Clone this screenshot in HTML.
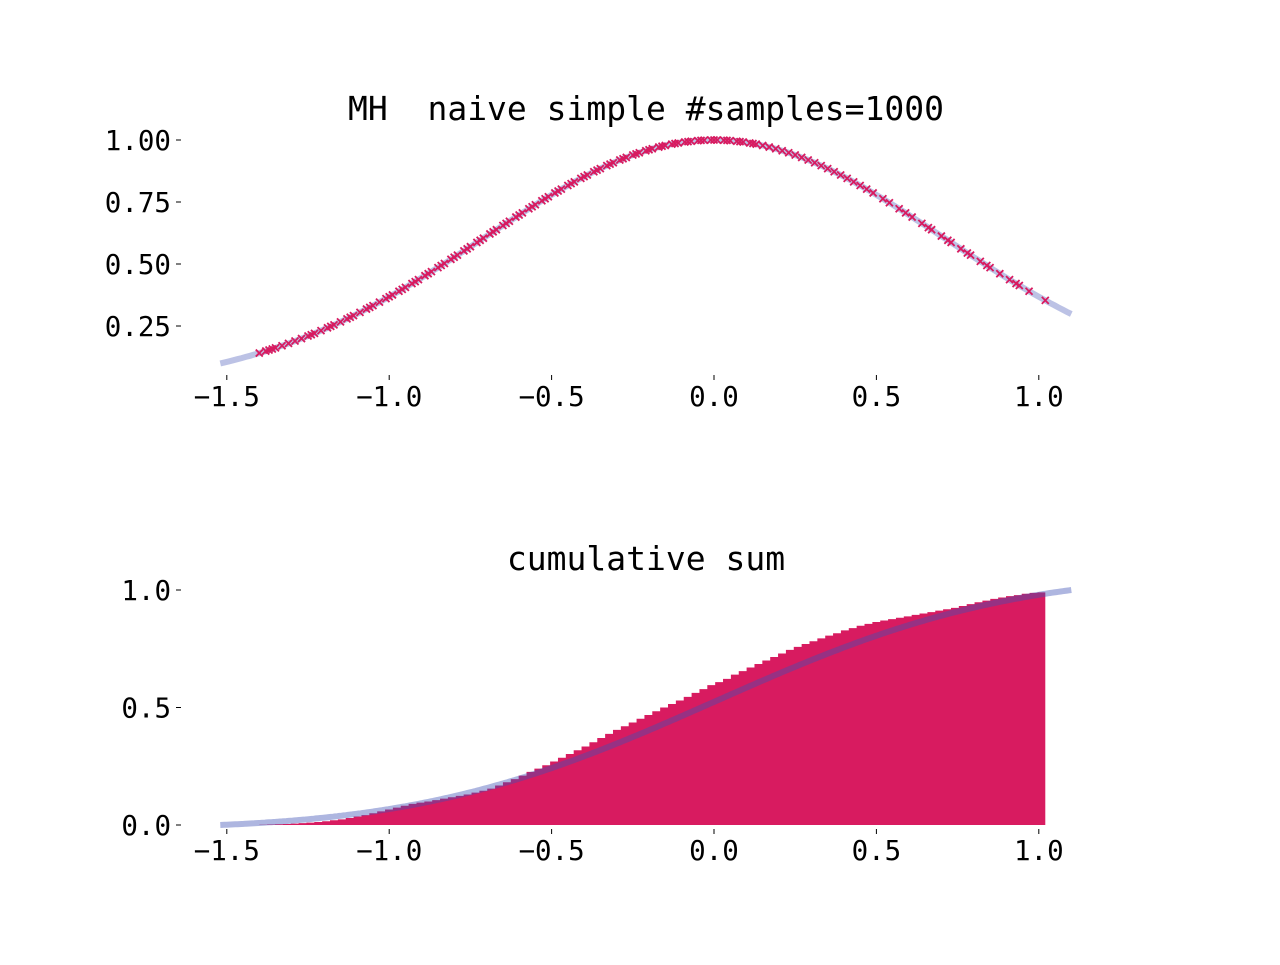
<!DOCTYPE html>
<html><head><meta charset="utf-8"><style>
html,body{margin:0;padding:0;background:#fff;}
svg text{font-family:"DejaVu Sans Mono","Liberation Mono",monospace;fill:#000;white-space:pre;}
</style></head><body>
<svg id="chart" width="1280" height="960" xmlns="http://www.w3.org/2000/svg"></svg>
<script>
const xTicks = [-1.5, -1.0, -0.5, 0.0, 0.5, 1.0];
const xTickLabels = ["\u22121.5", "\u22121.0", "\u22120.5", "0.0", "0.5", "1.0"];
const topYTicks = [0.25, 0.5, 0.75, 1.0];
const topYTickLabels = ["0.25", "0.50", "0.75", "1.00"];
const botYTicks = [0.0, 0.5, 1.0];
const botYTickLabels = ["0.0", "0.5", "1.0"];
const lineRange = [-1.52, 1.1];
const binStart = -1.40;
const binEnd = 1.02;
const cumValues = [
0.001,0.002,0.003,0.004,0.006,0.008,0.010,0.013,0.016,0.020,
0.024,0.030,0.036,0.042,0.050,0.058,0.066,0.074,0.082,0.090,
0.095,0.100,0.106,0.112,0.118,0.124,0.130,0.138,0.146,0.155,
0.168,0.182,0.195,0.210,0.226,0.240,0.254,0.270,0.286,0.302,
0.318,0.334,0.352,0.370,0.388,0.405,0.420,0.436,0.452,0.468,
0.484,0.500,0.515,0.530,0.545,0.562,0.578,0.595,0.608,0.622,
0.640,0.655,0.670,0.685,0.700,0.715,0.730,0.745,0.758,0.770,
0.782,0.794,0.806,0.816,0.828,0.838,0.848,0.856,0.864,0.870,
0.876,0.882,0.888,0.894,0.900,0.906,0.912,0.918,0.924,0.932,
0.940,0.948,0.955,0.962,0.968,0.974,0.978,0.984,0.988,0.990];
const samples = [
-1.40,-1.38,-1.37,-1.36,-1.35,-1.33,-1.31,-1.29,-1.27,-1.25,-1.24,-1.23,-1.21,-1.19,-1.18,-1.17,-1.15,-1.13,-1.12,-1.11,-1.09,-1.07,-1.06,-1.05,-1.03,
-1.01,-1.00,-0.99,-0.97,-0.96,-0.95,-0.93,-0.92,-0.91,-0.89,-0.88,-0.87,-0.85,-0.84,-0.83,-0.81,-0.80,-0.79,-0.77,-0.76,-0.75,-0.73,-0.72,-0.71,-0.69,-0.68,-0.67,-0.65,-0.64,-0.63,
-0.61,-0.60,-0.59,-0.57,-0.56,-0.55,-0.53,-0.52,-0.51,-0.49,-0.48,-0.47,-0.45,-0.44,-0.43,-0.41,-0.40,-0.39,-0.37,-0.36,-0.35,-0.33,-0.32,-0.31,-0.29,-0.28,-0.27,-0.25,-0.24,-0.23,
-0.21,-0.20,-0.19,-0.17,-0.16,-0.15,-0.13,-0.12,-0.11,-0.09,-0.08,-0.07,-0.05,-0.04,-0.03,-0.01,0.00,0.01,0.03,0.04,0.05,0.07,0.08,0.09,0.11,0.12,0.13,0.15,0.17,
0.19,0.21,0.23,0.25,0.27,0.29,0.31,0.33,0.35,0.37,0.39,0.41,0.43,0.45,0.47,0.49,0.52,0.54,0.57,0.59,0.61,
0.64,0.66,0.67,0.70,0.72,0.73,0.76,0.78,0.79,0.82,0.84,0.85,0.88,0.91,0.93,0.94,0.97,1.02];

const NS = "http://www.w3.org/2000/svg";
const svg = document.getElementById("chart");
function el(tag, attrs, parent){const e=document.createElementNS(NS,tag);for(const k in attrs)e.setAttribute(k,attrs[k]);(parent||svg).appendChild(e);return e;}
const xs = v => 714 + v*324.8;
const yTop = v => 140 + (1-v)*248;
const yBot = v => 825 - v*235;
const f = x => Math.exp(-x*x);

function axes(g, yScale, yT, yL, xAxisY, prefix){
  yT.forEach((v,i)=>{
    const t=el("line",{x1:176,x2:181,y1:yScale(v),y2:yScale(v),stroke:"#000","stroke-width":1},g);
    
    
    const l=el("text",{x:171,y:yScale(v)+10,"text-anchor":"end","font-size":27.5},g);
    l.textContent=yL[i];
    
    
  });
  xTicks.forEach((v,i)=>{
    const t=el("line",{x1:xs(v),x2:xs(v),y1:xAxisY,y2:xAxisY+5,stroke:"#000","stroke-width":1},g);
    
    
    const l=el("text",{x:xs(v),y:xAxisY+31,"text-anchor":"middle","font-size":27.5},g);
    l.textContent=xTickLabels[i];
    
    
  });
}

// top panel
const gt = el("g",{});


let d="";
for(let i=0;i<=200;i++){const x=lineRange[0]+(lineRange[1]-lineRange[0])*i/200;d+=(i?"L":"M")+xs(x).toFixed(1)+","+yTop(f(x)).toFixed(1);}
const tl=el("path",{d:d,fill:"none",stroke:"#3f51b5","stroke-opacity":0.35,"stroke-width":6},gt);


samples.forEach(s=>{
  const cx=xs(s), cy=yTop(f(s)), r=3.5;
  const m=el("path",{d:`M${cx-r},${cy-r}L${cx+r},${cy+r}M${cx-r},${cy+r}L${cx+r},${cy-r}`,stroke:"#d81b60","stroke-width":1.8},gt);
  
  
});
axes(gt, yTop, topYTicks, topYTickLabels, 375, "top");
const t1=el("text",{x:646,y:120,"text-anchor":"middle","font-size":33},gt);
t1.textContent="MH  naive simple #samples=1000";



// bottom panel
const gb = el("g",{});


const bw=(binEnd-binStart)/cumValues.length;
let bd="M"+xs(binStart)+","+yBot(0);
cumValues.forEach((v,i)=>{const x0=xs(binStart+i*bw),x1=xs(binStart+(i+1)*bw);bd+=`L${x0.toFixed(2)},${yBot(v).toFixed(2)}L${x1.toFixed(2)},${yBot(v).toFixed(2)}`;});
bd+="L"+xs(binEnd)+","+yBot(0)+"Z";
const bars=el("path",{d:bd,fill:"#d81b60"},gb);


const N=400, pts=[]; let acc=0, prev=f(lineRange[0]);
const dx=(lineRange[1]-lineRange[0])/N; pts.push(0);
for(let i=1;i<=N;i++){const x=lineRange[0]+i*dx;const c=f(x);acc+=(prev+c)/2*dx;prev=c;pts.push(acc);}
let cd="";
pts.forEach((v,i)=>{const x=lineRange[0]+i*dx;cd+=(i?"L":"M")+xs(x).toFixed(1)+","+yBot(v/acc).toFixed(1);});
const cl=el("path",{d:cd,fill:"none",stroke:"#3f51b5","stroke-opacity":0.42,"stroke-width":6},gb);


axes(gb, yBot, botYTicks, botYTickLabels, 829, "bottom");
const t2=el("text",{x:646,y:570,"text-anchor":"middle","font-size":33},gb);
t2.textContent="cumulative sum";


</script>
</body></html>
